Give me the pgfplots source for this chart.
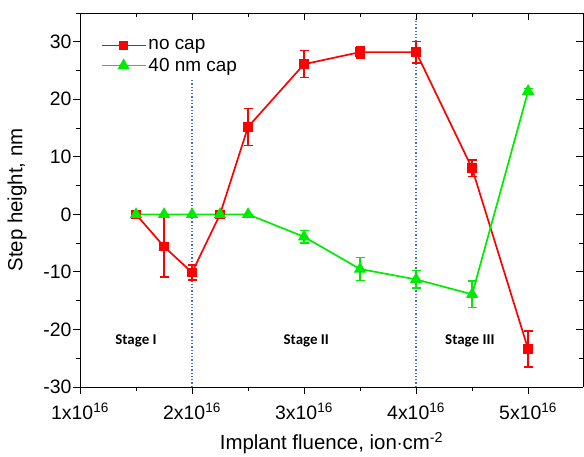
\documentclass[border=0pt]{standalone}
\usepackage{pgfplots}
\pgfplotsset{compat=1.18}
\usepackage{fontspec}
\setmainfont{Liberation Sans}
\newfontfamily\calibri{Carlito}
\definecolor{cred}{RGB}{255,0,0}
\definecolor{cgreen}{RGB}{0,235,0}
\definecolor{cblue}{RGB}{68,114,196}
\pgfplotstableread{
x y e
1.5 0 0
1.75 -5.6 5.3
2.0 -10.1 1.3
2.25 0 0
2.5 15.2 3.2
3.0 26.1 2.35
3.5 28.2 1.0
4.0 28.2 1.9
4.5 8.0 1.45
5.0 -23.4 3.15
}\nocap
\pgfplotstableread{
x y e
1.5 0 0
1.75 0 0
2.0 0 0
2.25 0 0
2.5 0 0
3.0 -3.9 1.1
3.5 -9.5 1.95
4.0 -11.3 1.5
4.5 -13.9 2.3
5.0 21.4 0.5
}\cap
\begin{document}
\begin{tikzpicture}
\pgfplotsset{every axis/.append style={
  scale only axis, width=503bp, height=374bp,
  xmin=1, xmax=5.49, ymin=-30, ymax=35,
  xtick={1,2,3,4,5}, minor xtick={1.5,2.5,3.5,4.5,5.5},
  ytick={-30,-20,-10,0,10,20,30}, minor ytick={-25,-15,-5,5,15,25,35},
  major tick length=7bp, minor tick length=4bp,
  every tick/.style={black, line width=0.9pt},
  axis line style={black, line width=0.9pt, -},
}}
\begin{axis}[name=main,
  axis x line*=bottom, axis y line*=left, tick align=outside,
  xticklabels={1x10\textsuperscript{16},2x10\textsuperscript{16},3x10\textsuperscript{16},4x10\textsuperscript{16},5x10\textsuperscript{16}},
  yticklabels={-30,-20,-10,0,10,20,30},
  tick label style={font=\fontsize{19.5}{22}\selectfont},
  xticklabel style={yshift=-5bp},
  yticklabel style={xshift=2bp},
  xlabel={Implant fluence, ion$\cdot$cm\textsuperscript{-2}},
  ylabel={Step height, nm},
  label style={font=\fontsize{20.5}{23}\selectfont},
  xlabel style={at={(axis description cs:0.5,-0.168)}, anchor=base},
  ylabel style={at={(axis description cs:-0.125,0.5)}, anchor=center},
  legend style={draw=none, fill=none, at={(0.035,0.94)}, anchor=north west,
    font=\fontsize{19}{21}\selectfont, row sep=3bp},
  legend cell align=left,
  legend image code/.code={\draw[mark repeat=2,mark phase=2] plot coordinates {(0bp,0bp)(22bp,0bp)(44bp,0bp)};},
]
\addplot[cblue, line width=1.3pt, dotted, forget plot] coordinates {(2,-30) (2,23.7)};
\addplot[cblue, line width=1.3pt, dotted, forget plot] coordinates {(4,-30) (4,34)};
\addplot[cred, line width=1.7pt, mark=square*, mark size=4bp, mark options={solid},
  error bars/.cd, y dir=both, y explicit,
  error bar style={line width=1.3pt, cred},
  error mark options={rotate=90, mark size=4.5bp, line width=1.3pt, cred}]
  table[x=x, y=y, y error=e] {\nocap};
\addlegendentry{no cap}
\addplot[cgreen, line width=1.7pt, mark=triangle*, mark size=5.5bp, mark options={solid},
  error bars/.cd, y dir=both, y explicit,
  error bar style={line width=1.3pt, cgreen},
  error mark options={rotate=90, mark size=4.5bp, line width=1.3pt, cgreen}]
  table[x=x, y=y, y error=e] {\cap};
\addlegendentry{40 nm cap}
\node[font=\calibri\bfseries\fontsize{15}{17}\selectfont] at (axis cs:1.5,-22) {Stage I};
\node[font=\calibri\bfseries\fontsize{15}{17}\selectfont] at (axis cs:3.02,-22) {Stage II};
\node[font=\calibri\bfseries\fontsize{15}{17}\selectfont] at (axis cs:4.48,-22) {Stage III};
\end{axis}
\begin{axis}[
  axis x line*=top, axis y line*=right, tick align=inside,
  xticklabels={}, yticklabels={},
]
\addplot[draw=none, forget plot] coordinates {(1,0)};
\end{axis}
\pgfresetboundingbox
\useasboundingbox ([xshift=-80bp,yshift=-70bp]main.south west) rectangle ([xshift=1bp,yshift=13bp]main.north east);
\end{tikzpicture}
\end{document}
